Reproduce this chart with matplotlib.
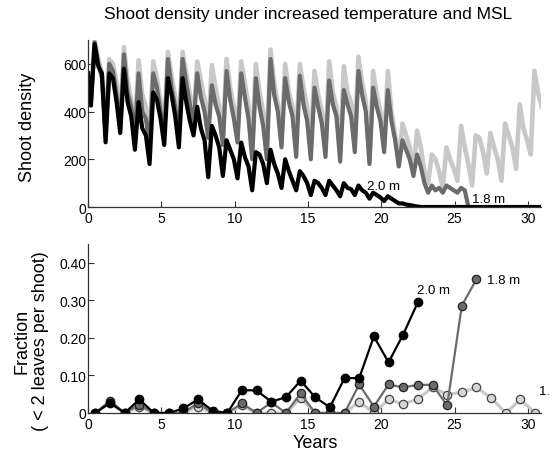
import numpy as np
import matplotlib
matplotlib.use("Agg")
import matplotlib.pyplot as plt

plt.rcParams['font.family'] = ['Liberation Sans', 'DejaVu Sans']

# --- top panel: shoot density, 4 samples per year (n+0.2, n+0.45, n+0.7, n+0.95)
start_val = 560
light_rows = [
    [460, 700, 620, 560], [330, 620, 600, 520], [360, 670, 530, 450], [330, 615, 470, 420],
    [280, 610, 540, 440], [320, 650, 550, 460], [330, 650, 560, 470], [380, 610, 530, 450],
    [330, 595, 500, 420], [300, 620, 500, 420], [320, 610, 520, 420], [260, 600, 480, 400],
    [260, 660, 520, 430], [300, 600, 480, 420], [280, 600, 500, 420], [260, 570, 470, 400],
    [250, 610, 480, 420], [220, 590, 480, 440], [280, 630, 520, 440], [190, 570, 470, 400],
    [260, 570, 400, 300], [190, 350, 300, 250], [150, 320, 250, 150], [100, 220, 200, 150],
    [80, 250, 200, 160], [110, 340, 250, 180], [90, 300, 290, 230], [140, 310, 250, 200],
    [110, 350, 300, 250], [160, 430, 330, 280], [220, 570, 480, 420],
]
dark_rows = [
    [440, 690, 600, 540], [300, 600, 570, 470], [330, 640, 480, 420], [300, 560, 400, 370],
    [260, 560, 500, 400], [300, 620, 500, 420], [300, 620, 520, 430], [340, 560, 460, 400],
    [290, 510, 430, 380], [260, 570, 450, 370], [270, 560, 460, 370], [200, 540, 420, 340],
    [200, 620, 470, 400], [250, 540, 440, 380], [210, 550, 430, 360], [200, 500, 420, 350],
    [210, 530, 430, 380], [190, 490, 430, 380], [230, 570, 470, 400], [180, 500, 420, 360],
    [230, 490, 360, 280], [170, 280, 240, 200], [130, 220, 170, 100], [60, 90, 70, 80],
    [60, 90, 80, 70], [60, 80, 70, 0],
]
black_rows = [
    [425, 683, 590, 560], [271, 560, 540, 440], [310, 580, 440, 380], [240, 440, 330, 300],
    [180, 480, 450, 370], [260, 540, 470, 380], [250, 540, 440, 360], [300, 420, 330, 280],
    [125, 340, 300, 250], [130, 280, 240, 200], [120, 270, 210, 170], [70, 230, 220, 180],
    [100, 240, 180, 140], [80, 200, 150, 110], [70, 150, 130, 100], [50, 110, 100, 80],
    [50, 110, 90, 70], [45, 100, 80, 75], [50, 90, 70, 60], [35, 60, 50, 40],
    [25, 45, 35, 25], [15, 15, 10, 8], [5, 2, 0, 0], [0, 0, 0, 0],
    [0, 0, 0, 0], [0, 0, 0, 0], [0, 0, 0, 0], [0, 0, 0, 0],
    [0, 0, 0, 0], [0, 0, 0, 0], [0, 0, 0, 0],
]
phase = [0.2, 0.45, 0.7, 0.95]

# --- bottom panel: fraction of shoots with < 2 leaves, yearly at n+0.5
frac_black = [0, 0.027, 0, 0.036, 0, 0, 0.012, 0.036, 0.006, 0, 0.061, 0.06, 0.03, 0.042,
              0.086, 0.042, 0.015, 0.093, 0.093, 0.204, 0.135, 0.209, 0.295]
frac_dark = [0, 0.033, 0, 0.022, 0, 0, 0, 0.027, 0, 0, 0.026, 0, 0.028, 0, 0.052, 0, 0, 0,
             0.076, 0.017, 0.076, 0.068, 0.075, 0.075, 0.02, 0.286, 0.356]
frac_light = [0, 0.028, 0, 0.015, 0, 0, 0, 0.017, 0, 0, 0.02, 0, 0, 0, 0.039, 0, 0, 0,
              0.03, 0, 0.036, 0.024, 0.037, 0.068, 0.049, 0.055, 0.068, 0.04, 0, 0.036, 0]

LIGHT = '#c8c8c8'
DARK = '#6b6b6b'


def series(rows):
    t = [0.0]
    v = [start_val]
    for n, r in enumerate(rows):
        for p, val in zip(phase, r):
            t.append(n + p)
            v.append(val)
    return t, v


fig = plt.figure(figsize=(5.49, 4.52), dpi=100)
W, H = 549.0, 452.0
ax1 = fig.add_axes([88 / W, 1 - 208 / H, 453 / W, 167 / H])
ax2 = fig.add_axes([88 / W, 1 - 414 / H, 453 / W, 169 / H])

for rows, c, lw in [(light_rows, LIGHT, 3.3), (dark_rows, DARK, 3.0), (black_rows, 'black', 3.0)]:
    t, v = series(rows)
    ax1.plot(t, v, color=c, lw=lw, solid_joinstyle='round')

ax1.text(19.0, 88, '2.0 m', fontsize=9.5, va='center')
ax1.text(26.2, 34, '1.8 m', fontsize=9.5, va='center')

yrs_l = np.arange(len(frac_light)) + 0.5
yrs_d = np.arange(len(frac_dark)) + 0.5
yrs_b = np.arange(len(frac_black)) + 0.5
ax2.plot(yrs_l, frac_light, color=LIGHT, lw=2.2, marker='o', ms=6, mfc='#d6d6d6', mec='#444444', mew=0.9)
ax2.plot(yrs_d, frac_dark, color=DARK, lw=1.6, marker='o', ms=6, mfc=DARK, mec='#222222', mew=0.9)
ax2.plot(yrs_b, frac_black, color='black', lw=1.6, marker='o', ms=6, mfc='black', mec='black')

ax2.text(22.45, 0.328, '2.0 m', fontsize=9.5, va='center')
ax2.text(27.2, 0.355, '1.8 m', fontsize=9.5, va='center')
ax2.text(30.75, 0.059, '1.9 m', fontsize=9.5, va='center', clip_on=False)

for ax in (ax1, ax2):
    ax.set_xlim(0, 30.9)
    ax.set_xticks([0, 5, 10, 15, 20, 25, 30])
    ax.spines['top'].set_visible(False)
    ax.spines['right'].set_visible(False)
    for s in ('left', 'bottom'):
        ax.spines[s].set_color('#333333')
        ax.spines[s].set_linewidth(0.9)
    ax.tick_params(direction='in', length=4, width=0.8, color='#333333', labelsize=10)
    ax.tick_params(axis='y', pad=1)
    ax.tick_params(axis='x', pad=3)

ax1.set_ylim(0, 700)
ax1.set_yticks([0, 200, 400, 600])
ax2.set_ylim(0, 0.45)
ax2.set_yticks([0, 0.1, 0.2, 0.3, 0.4])
ax2.set_yticklabels(['0', '0.10', '0.20', '0.30', '0.40'])

fig.text(308 / W, 1 - 14 / H, 'Shoot density under increased temperature and MSL',
         fontsize=12.5, ha='center', va='center')
fig.text(28 / W, 1 - 127 / H, 'Shoot density', fontsize=13, rotation=90, ha='center', va='center')
fig.text(31 / W, 1 - 341 / H, 'Fraction\n( < 2 leaves per shoot)', fontsize=13, rotation=90,
         ha='center', va='center', multialignment='center', linespacing=1.15)
fig.text(315 / W, 1 - 444 / H, 'Years', fontsize=13, ha='center', va='center')

fig.savefig('out.png', dpi=100)
